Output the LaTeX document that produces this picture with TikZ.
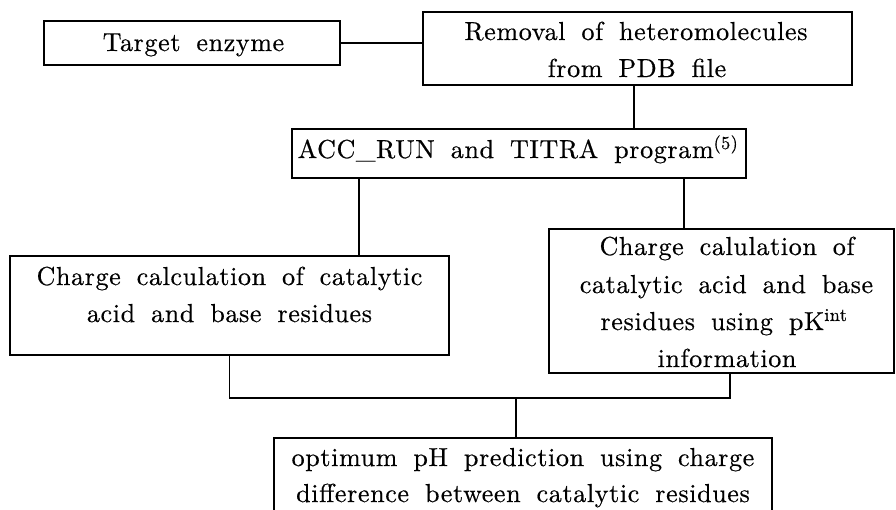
\documentclass[tikz,border=0pt]{standalone}
\usepackage{fontspec}
\newfontfamily\myfam{lmroman10-regular.otf}[LetterSpace=2.5,FakeBold=0.5]
\newcommand{\myTxtFont}{\myfam\fontsize{26}{37}\selectfont\spaceskip=16pt plus 2pt minus 2pt\relax}
\begin{document}
\begin{tikzpicture}[x=1pt,y=-1pt,
  box/.style={draw, line width=1.2pt, inner sep=0pt},
  txt/.style={anchor=base, inner sep=0pt, font=\myTxtFont},
  conn/.style={line width=1.2pt}]
\useasboundingbox (0,0) rectangle (896,509);
\clip (0,0) rectangle (896,509);
% boxes
\node[box, minimum width=296pt, minimum height=44pt] (tgt) at (192,43) {};
\node[box, minimum width=429pt, minimum height=73pt] (rem) at (637.5,48.5) {};
\node[box, minimum width=454pt, minimum height=49pt] (acc) at (519,153.5) {};
\node[box, minimum width=439pt, minimum height=99pt] (chl) at (229.5,305.5) {};
\node[box, minimum width=345pt, minimum height=144pt] (chr) at (721.5,301) {};
\node[box, minimum width=498pt, minimum height=88pt] (opt) at (523,482) {};
% texts
\node[txt] (t1) at (193.5,51) {Target enzyme};
\node[txt] (t2a) at (636,40) {Removal of heteromolecules};
\node[txt] (t2b) at (637,77) {from PDB file};
\node[txt] (t3) at (518,158) {ACC\_RUN and TITRA program\textsuperscript{(5)}};
\node[txt] (t4a) at (229.5,285) {Charge calculation of catalytic};
\node[txt] (t4b) at (229.5,322) {acid and base residues};
\node[txt] (t5a) at (727,255) {Charge calulation of};
\node[txt] (t5b) at (726.5,293) {catalytic acid and base};
\node[txt] (t5c) at (724,330) {residues using pK\textsuperscript{int}};
\node[txt] (t5d) at (727,367) {information};
\node[txt] (t6a) at (523,466) {optimum pH prediction using charge};
\node[txt] (t6b) at (523,502) {difference between catalytic residues};
% connector points
\coordinate (remS) at ([xshift=-3.5pt]rem.south);
\coordinate (accL) at ([xshift=-160pt]acc.south);
\coordinate (accR) at ([xshift=165pt]acc.south);
\coordinate (chrS) at ([xshift=8.5pt]chr.south);
\coordinate (jL) at (chl.south |- 0,398);
\coordinate (jR) at (chrS |- 0,398);
\coordinate (jM) at (516,398);
% connectors
\draw[conn] (tgt.east) -- (tgt.east -| rem.west);
\draw[conn] (remS) -- (remS |- acc.north);
\draw[conn] (accL) -- (accL |- chl.north);
\draw[conn] (accR) -- (accR |- chr.north);
\draw[conn] (chl.south) -- (jL) -- (jR) -- (chrS);
\draw[conn] (jM) -- (jM |- opt.north);
\end{tikzpicture}
\end{document}
